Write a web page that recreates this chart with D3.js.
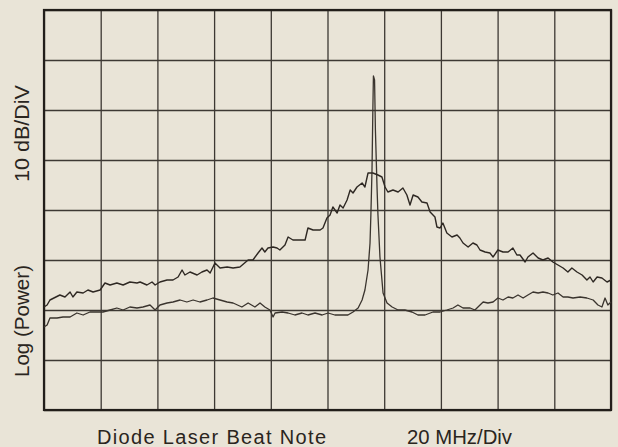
<!DOCTYPE html>
<html>
<head>
<meta charset="utf-8">
<script src="https://cdn.jsdelivr.net/npm/d3@7"></script>
<style>
  html, body { margin: 0; padding: 0; background: #e9e4d7; }
  svg { display: block; }
  text { font-family: "Liberation Sans", Arial, Helvetica, sans-serif; fill: #2a2520; }
</style>
</head>
<body>
<svg id="chart" width="618" height="447"></svg>
<script>
// Frequency span in MHz (20 MHz/Div, 10 divisions) and power in dB (10 dB/Div, 8 divisions)
const freqTicks = [0, 20, 40, 60, 80, 100, 120, 140, 160, 180, 200];
const powerTicks = [-80, -70, -60, -50, -40, -30, -20, -10, 0];

// Broad beat-note trace: [MHz, dB]
const broadTrace = [
  [0.0,-59.4],[1.1,-59.0],[2.1,-58.0],[5.6,-57.0],[7.4,-57.4],[9.2,-56.4],[10.2,-57.4],[11.6,-56.4],
  [13.8,-56.6],[15.5,-56.0],[17.3,-56.4],[19.8,-56.0],[21.5,-54.6],[23.3,-55.0],[25.7,-54.6],[27.9,-55.0],
  [30.3,-54.4],[32.8,-54.6],[33.9,-54.4],[36.3,-55.0],[38.1,-54.4],[39.2,-55.0],[40.9,-54.4],[43.4,-54.0],
  [45.5,-54.0],[47.3,-53.4],[48.7,-52.0],[49.7,-53.0],[51.5,-52.4],[54.0,-53.0],[55.7,-52.4],[57.5,-52.0],
  [58.6,-52.6],[60.3,-50.6],[62.1,-51.6],[64.6,-51.4],[66.7,-51.6],[69.1,-51.4],[72.0,-50.0],[73.7,-50.0],
  [75.5,-48.6],[76.9,-47.6],[77.9,-48.4],[79.0,-47.6],[80.8,-47.4],[82.2,-47.6],[83.2,-48.0],[85.0,-47.0],
  [86.1,-45.4],[87.8,-46.0],[90.3,-46.0],[92.1,-46.0],[93.1,-43.6],[94.9,-44.0],[97.4,-44.0],[98.4,-43.6],
  [99.8,-41.6],[100.9,-41.0],[101.9,-39.4],[103.4,-40.6],[104.4,-39.0],[105.5,-39.6],[106.9,-38.0],[108.0,-36.0],
  [109.0,-36.6],[110.4,-35.4],[112.2,-34.6],[113.2,-35.4],[114.3,-32.6],[116.0,-32.6],[117.8,-33.0],[119.2,-33.4],
  [120.3,-35.4],[121.3,-36.4],[123.1,-36.0],[124.9,-36.4],[126.6,-35.6],[128.0,-37.0],[129.1,-39.0],[130.2,-37.0],
  [131.9,-37.4],[133.3,-38.4],[135.1,-38.6],[136.2,-40.4],[137.9,-41.4],[138.6,-43.4],[139.7,-43.6],[140.7,-42.6],
  [142.1,-44.6],[143.9,-45.4],[145.7,-45.0],[146.7,-45.6],[147.8,-46.6],[149.6,-47.4],[151.3,-46.6],[152.7,-47.0],
  [153.8,-48.0],[155.6,-48.4],[157.3,-48.6],[158.4,-49.4],[160.1,-48.0],[161.9,-48.4],[163.7,-48.4],[165.4,-47.6],
  [166.8,-49.0],[167.9,-49.0],[169.7,-50.4],[170.7,-49.4],[172.5,-48.6],[174.3,-49.6],[176.0,-50.0],[177.8,-49.6],
  [179.5,-50.4],[181.3,-51.0],[183.1,-51.6],[184.8,-52.4],[186.2,-51.6],[188.0,-52.4],[189.8,-53.0],[191.5,-54.0],
  [192.6,-53.4],[193.7,-54.4],[195.1,-53.4],[196.8,-53.6],[198.6,-54.4],[200.0,-54.0]
];

// Narrow beat-note trace (with sharp central peak): [MHz, dB]
const narrowTrace = [
  [0.0,-63.4],[1.1,-63.0],[2.1,-61.6],[4.6,-61.6],[6.7,-61.4],[9.2,-61.4],[11.6,-60.6],[13.8,-61.0],
  [16.2,-60.4],[18.7,-60.4],[20.8,-60.4],[23.3,-60.0],[25.7,-59.6],[27.9,-60.0],[30.3,-59.4],[32.8,-59.6],
  [34.9,-59.4],[37.4,-59.0],[39.2,-60.0],[40.9,-59.0],[43.4,-58.6],[45.5,-58.4],[48.0,-58.0],[50.4,-58.4],
  [52.6,-58.0],[55.0,-58.4],[57.5,-58.0],[59.6,-57.6],[62.1,-58.0],[64.6,-58.4],[66.7,-58.6],[69.8,-59.4],
  [72.0,-58.6],[74.4,-59.4],[76.2,-58.6],[77.9,-59.4],[79.7,-60.0],[80.8,-61.4],[81.5,-60.6],[84.0,-60.4],
  [86.1,-60.6],[88.5,-61.0],[91.0,-60.6],[93.1,-61.0],[95.6,-60.6],[98.1,-61.0],[100.2,-60.6],[102.6,-61.0],
  [105.1,-61.0],[107.2,-61.0],[109.0,-60.4],[110.8,-59.6],[112.2,-58.0],[113.2,-56.0],[114.3,-52.0],[115.0,-46.6],
  [115.3,-41.0],[115.7,-32.0],[116.0,-20.0],[116.2,-13.2],[116.6,-14.0],[116.9,-24.0],[117.5,-36.0],[117.8,-41.0],
  [118.5,-49.4],[119.6,-56.6],[121.0,-58.6],[122.8,-59.4],[124.9,-60.0],[127.3,-60.0],[129.8,-60.4],[131.9,-61.0],
  [134.4,-61.0],[137.2,-60.4],[139.7,-60.4],[142.1,-60.0],[144.3,-59.6],[146.0,-59.0],[147.8,-59.6],[150.3,-59.6],
  [152.0,-60.0],[153.8,-59.0],[154.9,-58.4],[156.6,-58.6],[158.4,-58.4],[160.1,-57.6],[161.9,-58.0],[163.7,-57.4],
  [165.4,-57.6],[167.2,-57.0],[169.0,-57.6],[170.7,-57.0],[172.5,-56.4],[174.3,-56.6],[176.0,-56.4],[177.8,-56.6],
  [179.5,-57.0],[181.3,-56.6],[183.1,-57.4],[184.8,-57.4],[186.6,-57.6],[189.1,-57.4],[191.5,-57.6],[193.7,-58.0],
  [195.4,-59.0],[196.8,-59.4],[197.9,-57.6],[198.9,-59.0],[200.0,-58.4]
];

const yLabelTop = "10 dB/DiV";
const yLabelBottom = "Log (Power)";
const xLabelLeft = "Diode Laser Beat Note";
const xLabelRight = "20 MHz/Div";

const svg = d3.select("#chart");
const plot = { left: 44, right: 611, top: 10, bottom: 410 };

const x = d3.scaleLinear().domain([0, 200]).range([plot.left, plot.right]);
const y = d3.scaleLinear().domain([-80, 0]).range([plot.bottom, plot.top]);

const gridColor = "#3d3833";

// vertical grid
svg.append("g")
  .attr("transform", `translate(0,${plot.bottom})`)
  .call(d3.axisBottom(x).tickValues(freqTicks).tickSize(-(plot.bottom - plot.top)).tickFormat(""))
  .call(g => g.select(".domain").remove())
  .call(g => g.selectAll("line").attr("stroke", gridColor).attr("stroke-width", 1.3));

// horizontal grid
svg.append("g")
  .attr("transform", `translate(${plot.left},0)`)
  .call(d3.axisLeft(y).tickValues(powerTicks).tickSize(-(plot.right - plot.left)).tickFormat(""))
  .call(g => g.select(".domain").remove())
  .call(g => g.selectAll("line").attr("stroke", gridColor).attr("stroke-width", 1.3));

// frame
svg.append("rect")
  .attr("x", plot.left).attr("y", plot.top)
  .attr("width", plot.right - plot.left).attr("height", plot.bottom - plot.top)
  .attr("fill", "none").attr("stroke", "#221e1a").attr("stroke-width", 2.2);

const line = d3.line().x(d => x(d[0])).y(d => y(d[1]));

svg.append("path").datum(narrowTrace)
  .attr("d", line).attr("fill", "none")
  .attr("stroke", "#3a342e").attr("stroke-width", 1.3).attr("stroke-linejoin", "round");

svg.append("path").datum(broadTrace)
  .attr("d", line).attr("fill", "none")
  .attr("stroke", "#2e2823").attr("stroke-width", 1.4).attr("stroke-linejoin", "round");

// labels
svg.append("text")
  .attr("transform", "translate(29,182) rotate(-90)")
  .attr("font-size", 20).attr("textLength", 97).attr("lengthAdjust", "spacingAndGlyphs")
  .text(yLabelTop);

svg.append("text")
  .attr("transform", "translate(29,377) rotate(-90)")
  .attr("font-size", 20).attr("textLength", 112).attr("lengthAdjust", "spacingAndGlyphs")
  .text(yLabelBottom);

svg.append("text")
  .attr("x", 97).attr("y", 444)
  .attr("font-size", 20).attr("textLength", 229).attr("lengthAdjust", "spacing")
  .text(xLabelLeft);

svg.append("text")
  .attr("x", 407).attr("y", 444)
  .attr("font-size", 20).attr("textLength", 105).attr("lengthAdjust", "spacingAndGlyphs")
  .text(xLabelRight);
</script>
</body>
</html>
